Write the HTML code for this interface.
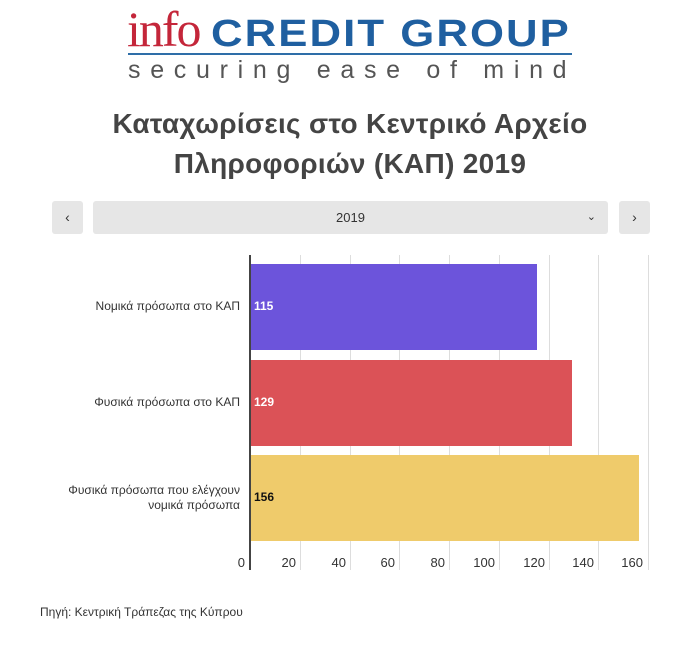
<!DOCTYPE html>
<html><head><meta charset="utf-8"><style>
body{margin:0;width:700px;height:655px;background:#fff;font-family:"Liberation Sans","DejaVu Sans",sans-serif;position:relative;overflow:hidden;color:#333}
.a{position:absolute}
.btn{background:#e6e6e6;border-radius:3px;top:201px;height:33px}
.lbl{font-size:12px;color:#333;text-align:right;right:460px;line-height:15px}
.grid{width:1px;background:#ddd;top:255px;height:315px}
.tick{font-size:13px;color:#333;top:555px;text-align:right;width:30px}
</style></head><body>
<div class="a" style="left:127px;top:2px;font-family:'Liberation Serif',serif;font-size:50px;color:#c4263a;letter-spacing:-2px;line-height:54px">info</div>
<div class="a" style="left:211px;top:14px;font-size:38px;font-weight:bold;color:#1f5fa0;line-height:40px;letter-spacing:1.8px;transform:scaleX(1.15);transform-origin:left top;white-space:nowrap">CREDIT GROUP</div>
<div class="a" style="left:128px;top:53px;width:444px;height:2px;background:#2e6ea8"></div>
<div class="a" style="left:128px;top:55px;font-size:25px;color:#555;letter-spacing:9.7px;line-height:30px;white-space:nowrap">securing ease of mind</div>
<div class="a" style="left:0;width:700px;top:104px;text-align:center;font-size:28px;font-weight:bold;color:#444;line-height:40px;letter-spacing:0.3px">Καταχωρίσεις στο Κεντρικό Αρχείο<br>Πληροφοριών (ΚΑΠ) 2019</div>
<div class="a btn" style="left:52px;width:31px;text-align:center;line-height:33px;font-size:14px">‹</div>
<div class="a btn" style="left:93px;width:515px;text-align:center;line-height:33px;font-size:13px">2019<span style="position:absolute;right:12px;font-size:11px">⌄</span></div>
<div class="a btn" style="left:619px;width:31px;text-align:center;line-height:33px;font-size:14px">›</div>
<div class="a grid" style="left:300px"></div><div class="a grid" style="left:350px"></div><div class="a grid" style="left:399px"></div><div class="a grid" style="left:449px"></div><div class="a grid" style="left:499px"></div><div class="a grid" style="left:549px"></div><div class="a grid" style="left:598px"></div><div class="a grid" style="left:648px"></div>
<div class="a" style="left:250px;top:264px;width:287px;height:86px;background:#6c54db"></div>
<div class="a" style="left:250px;top:360px;width:322px;height:86px;background:#db5257"></div>
<div class="a" style="left:250px;top:455px;width:389px;height:86px;background:#efcb6b"></div>
<div class="a" style="left:249px;top:255px;width:2px;height:315px;background:#444"></div>
<div class="a" style="left:254px;top:299px;font-size:12px;font-weight:bold;color:#fff">115</div>
<div class="a" style="left:254px;top:395px;font-size:12px;font-weight:bold;color:#fff">129</div>
<div class="a" style="left:254px;top:490px;font-size:12px;font-weight:bold;color:#111">156</div>
<div class="a lbl" style="top:299px">Νομικά πρόσωπα στο ΚΑΠ</div>
<div class="a lbl" style="top:395px">Φυσικά πρόσωπα στο ΚΑΠ</div>
<div class="a lbl" style="top:483px">Φυσικά πρόσωπα που ελέγχουν<br>νομικά πρόσωπα</div>
<div class="a tick" style="left:215px">0</div>
<div class="a tick" style="left:266px">20</div>
<div class="a tick" style="left:316px">40</div>
<div class="a tick" style="left:365px">60</div>
<div class="a tick" style="left:415px">80</div>
<div class="a tick" style="left:465px">100</div>
<div class="a tick" style="left:515px">120</div>
<div class="a tick" style="left:564px">140</div>
<div class="a tick" style="left:613px">160</div>
<div class="a" style="left:40px;top:605px;font-size:12px;color:#333">Πηγή: Κεντρική Τράπεζας της Κύπρου</div>
</body></html>
